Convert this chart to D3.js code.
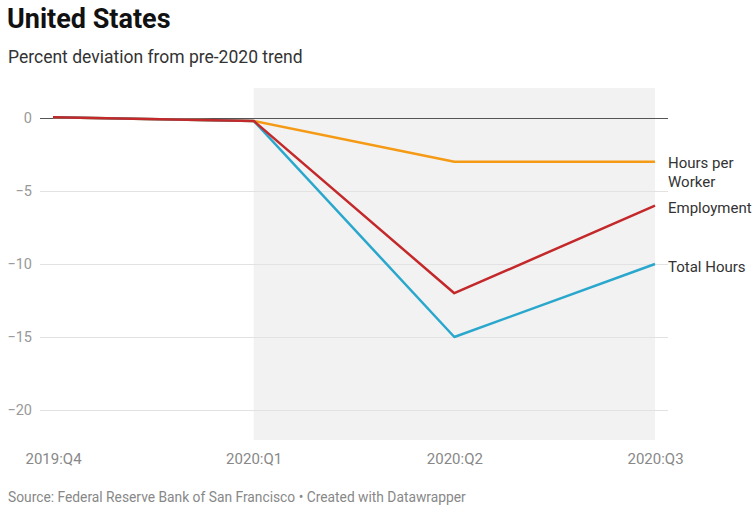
<!DOCTYPE html>
<html><head><meta charset="utf-8">
<script src="https://cdn.jsdelivr.net/npm/d3@7"></script>
<style>
body{margin:0;background:#fff;font-family:Roboto,"Noto Sans",sans-serif;}
</style></head>
<body><svg id="c" width="753" height="506"></svg>
<script>
const categories = ["2019:Q4","2020:Q1","2020:Q2","2020:Q3"];
const hoursPerWorker = [0.05,-0.2,-3,-3];
const employment = [0.05,-0.2,-12,-6];
const totalHours = [0.05,-0.2,-15,-10];
const seriesNames = ["Hours per Worker","Employment","Total Hours"];
const yTicks = [0,-5,-10,-15,-20];
const shadeRange = ["2020:Q1","2020:Q3"];

const series = [
  {name:"Hours per Worker", values: hoursPerWorker, color:"#f59a14", label:["Hours per","Worker"]},
  {name:"Total Hours", values: totalHours, color:"#2aa7cc", label:["Total Hours"]},
  {name:"Employment", values: employment, color:"#c3282a", label:["Employment"]}
];

const svg = d3.select("#c");
const x = d3.scalePoint().domain(categories).range([53,655]);
const y = d3.scaleLinear().domain([0,-20]).range([118,410]);

svg.append("text").attr("x",7).attr("y",28).attr("font-size",27).attr("font-weight",700).attr("fill","#111").text("United States");
svg.append("text").attr("x",8).attr("y",63).attr("font-size",17.5).attr("fill","#333").text("Percent deviation from pre-2020 trend");

// shading
svg.append("rect").attr("x",x(shadeRange[0])).attr("y",88)
  .attr("width",x(shadeRange[1])-x(shadeRange[0])).attr("height",440-88).attr("fill","#f2f2f2");

// grid
const yAxis = d3.axisLeft(y).tickValues(yTicks).tickSize(-(668-40)).tickPadding(8)
  .tickFormat(d=> d<0 ? "\u2212"+Math.abs(d) : d);
const ga = svg.append("g").attr("transform","translate(40,0)").call(yAxis);
ga.select(".domain").remove();
ga.selectAll(".tick line").attr("stroke",d=>d===0?"#555":"#e2e2e2").attr("stroke-width",d=>d===0?1.2:1);
ga.selectAll(".tick text").attr("font-size",14.5).attr("fill","#999").attr("font-family","Roboto");

// x axis
const xAxis = d3.axisBottom(x).tickSize(0).tickPadding(0);
const gx = svg.append("g").attr("transform","translate(0,450)").call(xAxis);
gx.select(".domain").remove();
gx.selectAll(".tick text").attr("font-size",15).attr("fill","#888").attr("font-family","Roboto").attr("dy","0.9em");

const line = d3.line().x((d,i)=>x(categories[i])).y(d=>y(d));
series.forEach(s=>{
  svg.append("path").attr("d",line(s.values)).attr("fill","none").attr("stroke",s.color)
    .attr("stroke-width",2.5).attr("stroke-linejoin","round");
});

// labels
const labelY = {"Hours per Worker":168,"Employment":213,"Total Hours":272};
series.forEach(s=>{
  const t = svg.append("text").attr("x",668).attr("y",labelY[s.name]).attr("font-size",15).attr("fill","#333");
  s.label.forEach((l,i)=> t.append("tspan").attr("x",668).attr("dy",i===0?0:19).text(l));
});

svg.append("text").attr("x",8).attr("y",502).attr("font-size",13.8).attr("fill","#888")
  .text("Source: Federal Reserve Bank of San Francisco \u2022 Created with Datawrapper");
</script></body></html>
